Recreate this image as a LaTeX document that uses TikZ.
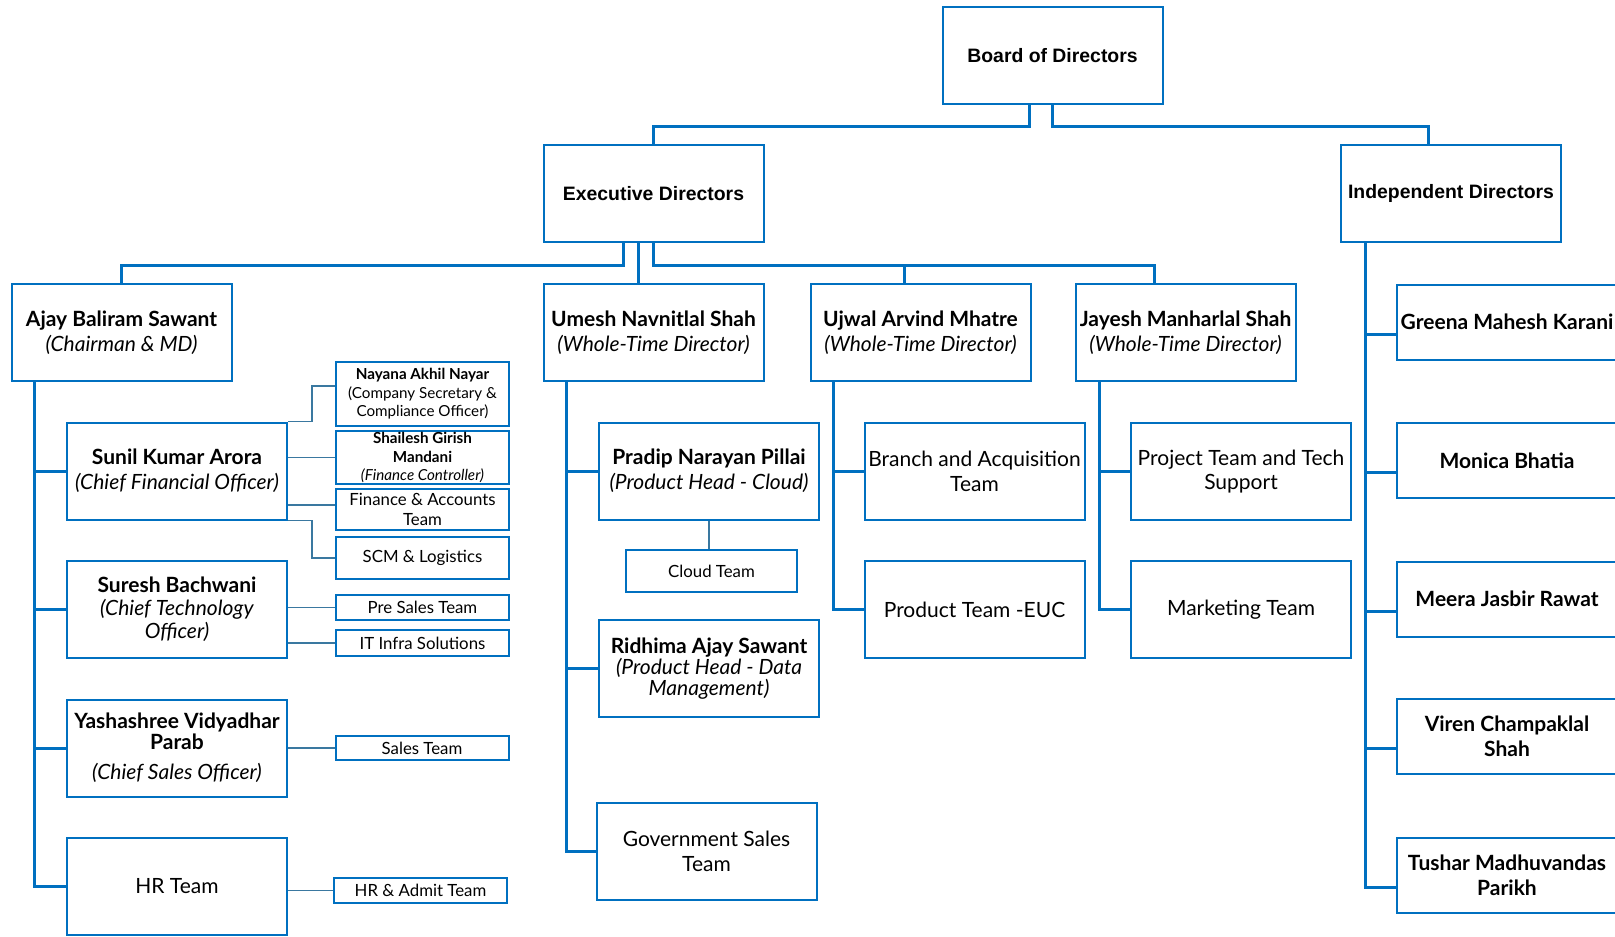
\documentclass[tikz,border=0pt]{standalone}
\usepackage{fontspec}
\setmainfont{Lato}
\newfontfamily\arialfont{Liberation Sans}
\usetikzlibrary{positioning,calc}
\definecolor{orgblue}{HTML}{0070C0}
\definecolor{subteal}{HTML}{3A78A0}
\tikzset{
  orgbox/.style={draw=orgblue, line width=1pt, fill=white,
    minimum width=110pt, minimum height=48.5pt, inner sep=1pt,
    align=center, font=\fontsize{10.5}{12.4}\selectfont},
  topbox/.style={orgbox, font=\arialfont\fontsize{9.7}{11}\selectfont\bfseries},
  sidebox/.style={orgbox, minimum height=37.5pt},
  subbox/.style={draw=orgblue, line width=1pt, fill=white,
    minimum width=86.5pt, inner sep=0.5pt, align=center,
    font=\fontsize{8.4}{9.8}\selectfont},
  namebox/.style={subbox, font=\fontsize{7.6}{9.3}\selectfont},
  mainline/.style={draw=orgblue, line width=1.5pt},
  subline/.style={draw=subteal, line width=0.9pt},
}

\begin{document}
\begin{tikzpicture}[x=0.5pt,y=-0.5pt]
\useasboundingbox (0,0) rectangle (1615,936);
\clip (0,0) rectangle (1615,936);

% Board level
\node[topbox] (board) at (1052.5,55.5) {Board of Directors};
\node[topbox] (exec) at (653.5,193.5) {Executive Directors};
\node[topbox] (indep) at (1451,193.5) {Independent Directors};

% Executive directors
\node[orgbox] (ajay) at (121.5,332.5) {\textbf{Ajay Baliram Sawant}\\\textit{(Chairman \& MD)}};
\node[orgbox] (umesh) at (653.5,332.5) {\textbf{Umesh Navnitlal Shah}\\\textit{(Whole-Time Director)}};
\node[orgbox] (ujwal) at (920.5,332.5) {\textbf{Ujwal Arvind Mhatre}\\\textit{(Whole-Time Director)}};
\node[orgbox] (jayesh) at (1185.5,332.5) {\textbf{Jayesh Manharlal Shah}\\\textit{(Whole-Time Director)}};

% Under Ajay
\node[orgbox] (sunil) at (177,471) {\textbf{Sunil Kumar Arora}\\\textit{(Chief Financial Officer)}};
\node[orgbox, font=\fontsize{10.5}{11.6}\selectfont] (suresh) at (177,609) {\textbf{Suresh Bachwani}\\\textit{(Chief Technology}\\\textit{Officer)}};
\node[orgbox, font=\fontsize{10.5}{10.5}\selectfont] (yash) at (177,748) {\textbf{Yashashree Vidyadhar}\\\textbf{Parab}\\[4.5pt]\textit{(Chief Sales Officer)}};
\node[orgbox] (hr) at (177,886.5) {HR Team};

\node[namebox, minimum height=32pt] (nayana) at (422.5,394) {\textbf{Nayana Akhil Nayar}\\(Company Secretary \&\\Compliance Officer)};
\node[namebox, minimum height=24.5pt] (shailesh) at (422.5,457.5) {\textbf{Shailesh Girish}\\\textbf{Mandani}\\\textit{(Finance Controller)}};
\node[subbox, minimum height=20.5pt] (finacc) at (422.5,509.5) {Finance \& Accounts\\Team};
\node[subbox, minimum height=21pt] (scm) at (422.5,558) {SCM \& Logistics};
\node[subbox, minimum height=12.5pt] (presales) at (422.5,607.5) {Pre Sales Team};
\node[subbox, minimum height=13pt] (itinfra) at (422.5,643) {IT Infra Solutions};
\node[subbox, minimum height=12pt] (sales) at (422,748) {Sales Team};
\node[subbox, minimum height=12.5pt] (hradmit) at (420.5,890.5) {HR \& Admit Team};

% Under Umesh
\node[orgbox] (pradip) at (709,471) {\textbf{Pradip Narayan Pillai}\\\textit{(Product Head - Cloud)}};
\node[subbox, minimum width=85.5pt, minimum height=21pt] (cloud) at (711.5,571) {Cloud Team};
\node[orgbox, font=\fontsize{10.5}{10.6}\selectfont] (ridhima) at (709,668.5) {\textbf{Ridhima Ajay Sawant}\\\textit{(Product Head - Data}\\\textit{Management)}};
\node[orgbox] (govsales) at (706.5,851) {Government Sales\\Team};

% Under Ujwal
\node[orgbox] (branch) at (974.5,471) {Branch and Acquisition\\Team};
\node[orgbox] (euc) at (974.5,609.5) {Product Team -EUC};

% Under Jayesh
\node[orgbox] (project) at (1241,471.5) {Project Team and Tech\\Support};
\node[orgbox] (marketing) at (1241,609.5) {Marketing Team};

% Independent directors
\node[sidebox] (greena) at (1507,322) {\textbf{Greena Mahesh Karani}};
\node[sidebox] (monica) at (1507,460.5) {\textbf{Monica Bhatia}};
\node[sidebox] (meera) at (1507,599) {\textbf{Meera Jasbir Rawat}};
\node[sidebox] (viren) at (1507,736.5) {\textbf{Viren Champaklal}\\\textbf{Shah}};
\node[sidebox] (tushar) at (1507,875.5) {\textbf{Tushar Madhuvandas}\\\textbf{Parikh}};

% Top links
\draw[mainline] ([xshift=-11.75pt]board.south) -- ++(0,22) -| (exec.north);
\draw[mainline] (board.south) -- ++(0,22) -| ([xshift=-11.5pt]indep.north);
\draw[mainline] ([xshift=-15.25pt]exec.south) -- ++(0,22) -| (ajay.north);
\draw[mainline] ([xshift=-7.75pt]exec.south) -- ([xshift=-7.75pt]umesh.north);
\draw[mainline] (exec.south) -- ++(0,22) -| ([xshift=-15.75pt]jayesh.north);
\draw[mainline] (exec.south) -- ++(0,22) -| ([xshift=-8.25pt]ujwal.north);

% Column links
\foreach \c in {sunil,suresh,yash,hr}
  \draw[mainline] ([xshift=-43.75pt]ajay.south) |- (\c.west);
\foreach \c in {pradip,ridhima,govsales}
  \draw[mainline] ([xshift=-43.75pt]umesh.south) |- (\c.west);
\foreach \c in {branch,euc}
  \draw[mainline] ([xshift=-43.75pt]ujwal.south) |- (\c.west);
\foreach \c in {project,marketing}
  \draw[mainline] ([xshift=-43.25pt]jayesh.south) |- (\c.west);
\foreach \c in {greena,monica,meera,viren,tushar}
  \draw[mainline] ([xshift=-43pt]indep.south) |- ([yshift=-6pt]\c.west);

% Team links
\draw[subline] (sunil.north east) -- ++(24,0) |- ([yshift=4pt]nayana.west);
\draw[subline] (sunil.east |- shailesh.west) -- (shailesh.west);
\draw[subline] ($(sunil.east |- finacc.west)+(0,-4.5)$) -- ([yshift=2.25pt]finacc.west);
\draw[subline] (sunil.south east) -- ++(24,0) |- (scm.west);
\draw[subline] (suresh.east |- presales.west) -- (presales.west);
\draw[subline] (suresh.east |- itinfra.west) -- (itinfra.west);
\draw[subline] (yash.east |- sales.west) -- (sales.west);
\draw[subline] (hr.east |- hradmit.west) -- (hradmit.west);
\draw[subline] (pradip.south) -- (pradip.south |- cloud.north);

\end{tikzpicture}
\end{document}
